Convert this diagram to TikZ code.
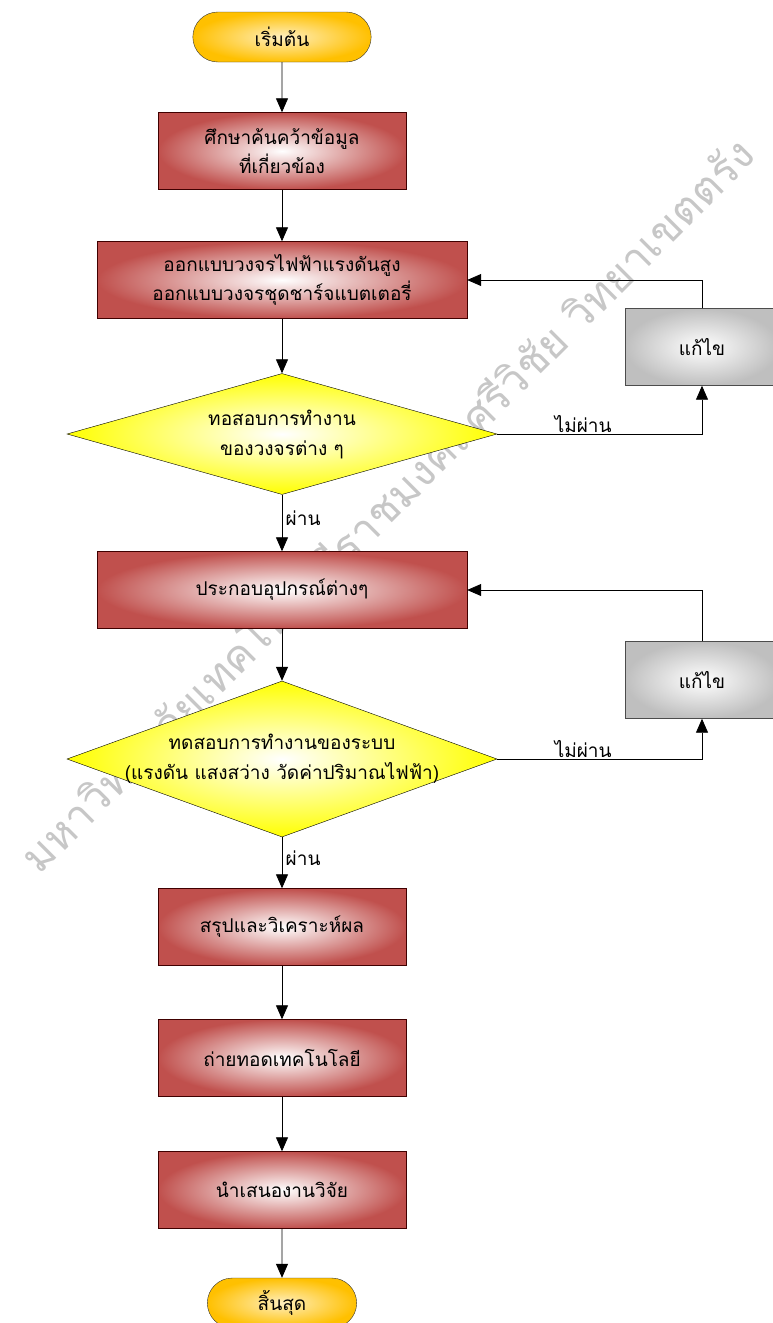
\documentclass[tikz,border=0pt]{standalone}
\usepackage{fontspec}
\usepackage{pdfrender}
\newfontfamily\thaifont[Script=Thai]{Loma}
\usetikzlibrary{shapes.geometric,shapes.misc,arrows.meta}

\definecolor{termgold}{HTML}{FFC000}
\definecolor{boxred}{HTML}{C0504D}
\definecolor{diayellow}{HTML}{FFFF00}
\definecolor{fixgray}{HTML}{BFBFBF}

\begin{document}
\begin{tikzpicture}[x=1pt,y=-1pt,
  terminal/.style={rounded rectangle,draw=black!80,inner color=termgold!25,outer color=termgold,
    minimum width=185pt,minimum height=50pt,font=\thaifont\fontsize{19}{29}\selectfont},
  process/.style={rectangle,draw=black!75!red,inner color=white,outer color=boxred,
    minimum height=77pt,align=center,font=\thaifont\fontsize{19}{29}\selectfont},
  decision/.style={diamond,draw=black,inner color=white,outer color=diayellow,inner sep=0pt,
    minimum width=430pt},
  fixbox/.style={rectangle,draw=black!70,inner color=white,outer color=fixgray,
    minimum width=154pt,minimum height=77pt,font=\thaifont\fontsize{19}{29}\selectfont},
  dtext/.style={align=center,font=\thaifont\fontsize{19}{30}\selectfont},
  lbl/.style={font=\thaifont\fontsize{19}{20}\selectfont},
  arr/.style={-{Triangle[length=14pt,width=12pt]},line width=0.8pt},
]
\useasboundingbox (0,0) rectangle (772,1323);

% watermark
\node[rotate=45,text=black!22,font=\thaifont\fontsize{43.5}{50}\selectfont] (mark) at (385,503)
  {\textpdfrender{TextRenderingMode=1,LineWidth=0.8}{มหาวิทยาลัยเทคโนโลยีราชมงคลศรีวิชัย วิทยาเขตตรัง}};

% === main column ===
\node[terminal] (start) at (282,37) {เริ่มต้น};
\node[process,minimum width=248pt] (study) at (282,151) {ศึกษาค้นคว้าข้อมูล\\ที่เกี่ยวข้อง};
\node[process,minimum width=370pt] (design) at (282,280) {ออกแบบวงจรไฟฟ้าแรงดันสูง\\ออกแบบวงจรชุดชาร์จแบตเตอรี่};
\node[decision,minimum height=121pt,label={[dtext]center:ทอสอบการทำงาน\\ของวงจรต่าง ๆ}] (test1) at (282,434) {};
\node[process,minimum width=370pt] (build) at (282,590) {ประกอบอุปกรณ์ต่างๆ};
\node[decision,minimum height=156pt,label={[dtext]center:ทดสอบการทำงานของระบบ\\(แรงดัน แสงสว่าง วัดค่าปริมาณไฟฟ้า)}] (test2) at (282,759) {};
\node[process,minimum width=248pt] (sum) at (282,927) {สรุปและวิเคราะห์ผล};
\node[process,minimum width=248pt] (transfer) at (282,1058) {ถ่ายทอดเทคโนโลยี};
\node[process,minimum width=248pt] (present) at (282,1190) {นำเสนองานวิจัย};
\node[terminal,minimum width=156pt] (stop) at (282,1303) {สิ้นสุด};

% === fix loops ===
\node[fixbox] (fix1) at (702,347) {แก้ไข};
\node[fixbox] (fix2) at (702,680) {แก้ไข};

% connectors
\draw[arr] (start) -- (study);
\draw[arr] (study) -- (design);
\draw[arr] (design) -- (test1);
\draw[arr] (test1) -- node[lbl,right,pos=0.42]{ผ่าน} (build);
\draw[arr] (build) -- (test2);
\draw[arr] (test2) -- node[lbl,right,pos=0.42]{ผ่าน} (sum);
\draw[arr] (sum) -- (transfer);
\draw[arr] (transfer) -- (present);
\draw[arr] (present) -- (stop);

\draw[arr] (test1.east) -- node[lbl,above,pos=0.42,inner sep=1pt]{ไม่ผ่าน} (test1.east -| fix1) -- (fix1.south);
\draw[arr] (fix1.north) |- (design.east);
\draw[arr] (test2.east) -- node[lbl,above,pos=0.42,inner sep=1pt]{ไม่ผ่าน} (test2.east -| fix2) -- (fix2.south);
\draw[arr] (fix2.north) |- (build.east);

\end{tikzpicture}
\end{document}
